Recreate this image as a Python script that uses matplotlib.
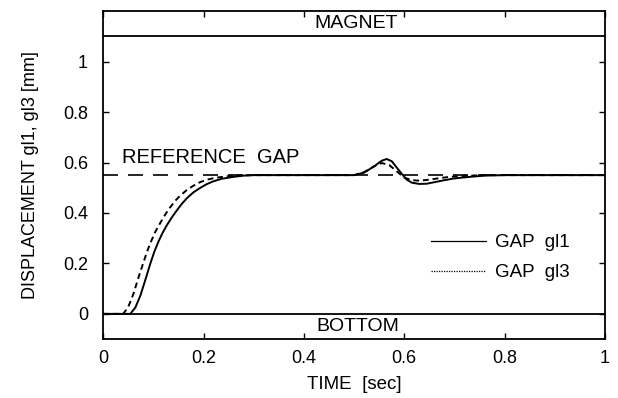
import matplotlib
matplotlib.use("Agg")
import matplotlib.pyplot as plt
from matplotlib.lines import Line2D

t_gl1 = [0.0, 0.054, 0.064, 0.074, 0.084, 0.094, 0.102, 0.110, 0.118, 0.127, 0.137, 0.147,
         0.157, 0.167, 0.180, 0.193, 0.206, 0.219, 0.235, 0.259, 0.28, 0.30, 0.50, 0.52,
         0.54, 0.555, 0.565, 0.575, 0.585, 0.595, 0.605, 0.615, 0.63, 0.645, 0.66, 0.68,
         0.70, 0.73, 0.76, 0.80, 1.0]
gap_gl1 = [0.0, 0.0, 0.025, 0.072, 0.135, 0.200, 0.247, 0.286, 0.320, 0.352, 0.383, 0.411,
           0.437, 0.459, 0.482, 0.499, 0.514, 0.525, 0.535, 0.543, 0.548, 0.55, 0.55, 0.56,
           0.585, 0.607, 0.614, 0.605, 0.58, 0.555, 0.532, 0.52, 0.515, 0.516, 0.522, 0.53,
           0.537, 0.543, 0.548, 0.55, 0.55]

t_gl3 = [0.0, 0.040, 0.050, 0.060, 0.070, 0.080, 0.088, 0.096, 0.104, 0.113, 0.123, 0.133,
         0.143, 0.153, 0.166, 0.179, 0.193, 0.207, 0.225, 0.25, 0.27, 0.30, 0.50, 0.52,
         0.54, 0.555, 0.57, 0.585, 0.60, 0.615, 0.63, 0.65, 0.67, 0.69, 0.72, 0.76, 1.0]
gap_gl3 = [0.0, 0.0, 0.028, 0.078, 0.142, 0.203, 0.250, 0.290, 0.326, 0.358, 0.392, 0.421,
           0.447, 0.468, 0.49, 0.507, 0.522, 0.532, 0.54, 0.546, 0.549, 0.55, 0.55, 0.562,
           0.585, 0.598, 0.59, 0.565, 0.54, 0.53, 0.528, 0.532, 0.538, 0.543, 0.547, 0.55, 0.55]

reference_gap = 0.55
magnet = 1.1
bottom = 0.0

x_ticks = [0, 0.2, 0.4, 0.6, 0.8, 1]
x_labels = ["0", "0.2", "0.4", "0.6", "0.8", "1"]
y_ticks = [0, 0.2, 0.4, 0.6, 0.8, 1]
y_labels = ["0", "0.2", "0.4", "0.6", "0.8", "1"]

plt.rcParams['font.family'] = ['Liberation Sans', 'DejaVu Sans']

fig = plt.figure(figsize=(6.18, 3.98), dpi=100)
ax = fig.add_axes([0.167, 0.148, 0.812, 0.824])

ax.axhline(magnet, color="black", lw=1.3)
ax.axhline(bottom, color="black", lw=1.3)
ax.axhline(reference_gap, color="black", lw=1.2, dashes=(9, 6))

ax.plot(t_gl3, gap_gl3, color="black", lw=1.4, dashes=(3, 2))
ax.plot(t_gl1, gap_gl1, color="black", lw=1.4)

ax.text(0.505, 1.153, "MAGNET", ha="center", va="center", fontsize=14)
ax.text(0.508, -0.05, "BOTTOM", ha="center", va="center", fontsize=14)
ax.text(0.038, 0.62, "REFERENCE  GAP", ha="left", va="center", fontsize=14.5)

handles = [Line2D([], [], color="black", lw=0.9),
           Line2D([], [], color="black", lw=0.9, ls=(0, (1, 1)))]
ax.legend(handles, ["GAP  gl1", "GAP  gl3"], loc="center left",
          bbox_to_anchor=(0.62, 0.248), frameon=False, fontsize=13.5,
          handlelength=2.9, handletextpad=0.5, labelspacing=0.67)

ax.set_xlim(0, 1)
ax.set_ylim(-0.1, 1.2)
ax.set_xticks(x_ticks)
ax.set_xticklabels(x_labels)
ax.set_yticks(y_ticks)
ax.set_yticklabels(y_labels)
ax.tick_params(direction="in", length=4, width=1, top=True, right=True, labelsize=13)
ax.tick_params(axis="x", pad=8)
ax.tick_params(axis="y", pad=11)
for s in ax.spines.values():
    s.set_linewidth(1.3)

ax.set_xlabel("TIME  [sec]", fontsize=13.5, labelpad=6)
ax.set_ylabel("DISPLACEMENT gl1, gl3 [mm]", fontsize=13, labelpad=17)

fig.savefig("out.png", dpi=100)
